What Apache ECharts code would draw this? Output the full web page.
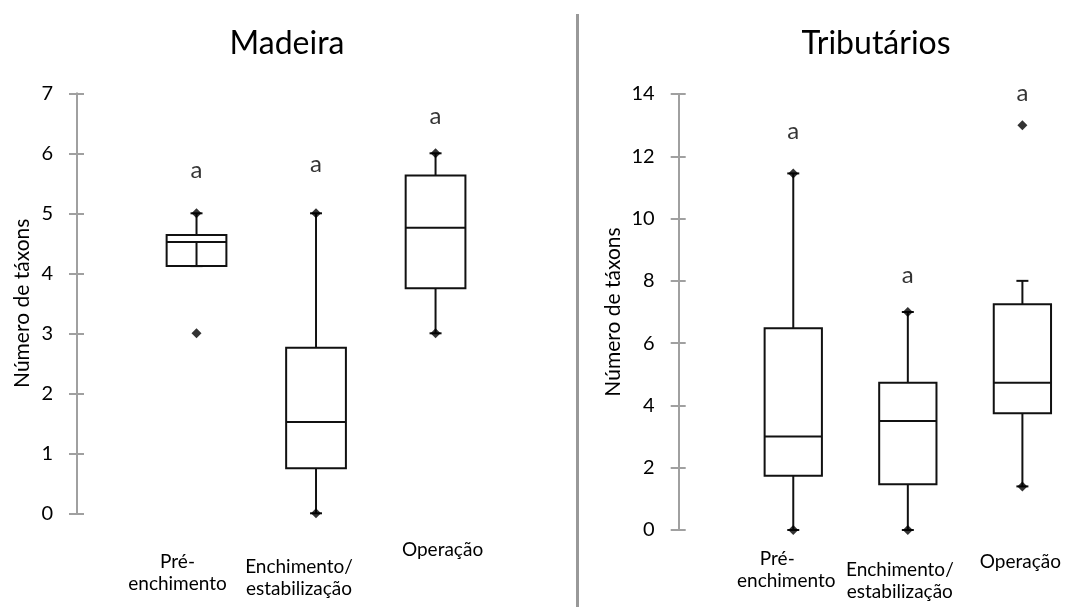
<!DOCTYPE html>
<html><head><meta charset="utf-8">
<script src="https://cdn.jsdelivr.net/npm/echarts@6/dist/echarts.min.js"></script>
<style>html,body{margin:0;padding:0;background:#fff}#c{width:1068px;height:607px}</style>
</head><body><div id="c"></div><script>
// ---------- data ----------
const categories = ['Pré-\nenchimento', 'Enchimento/\nestabilização', 'Operação'];
const panelTitles = ['Madeira', 'Tributários'];
const yAxisName = 'Número de táxons';

// Madeira
const madeiraLow    = [4.12, 0, 3];
const madeiraLowTop = [4.52, 0.75, 3.75];
const madeiraQ1     = [4.12, 0.75, 3.75];
const madeiraMedian = [4.52, 1.52, 4.76];
const madeiraQ3     = [4.64, 2.76, 5.63];
const madeiraHigh   = [5, 5, 6];
const madeiraPoints = [[1, 5], [1, 3], [2, 5], [2, 0], [3, 6], [3, 3]];
const madeiraLetters = ['a', 'a', 'a'];
const madeiraLetterY = [5.72, 5.82, 6.61];
const madeiraTicks = {min: 0, max: 7, interval: 1};

// Tributários
const tribLow    = [0, 0, 1.4];
const tribLowTop = [1.74, 1.47, 3.75];
const tribQ1     = [1.74, 1.47, 3.75];
const tribMedian = [3, 3.5, 4.73];
const tribQ3     = [6.48, 4.73, 7.25];
const tribHigh   = [11.45, 7, 8];
const tribPoints = [[1, 11.45], [1, 0], [2, 7], [2, 0], [3, 13], [3, 1.4]];
const tribLetters = ['a', 'a', 'a'];
const tribLetterY = [12.79, 8.19, 14.02];
const tribTicks = {min: 0, max: 14, interval: 2};

// ---------- build ----------
const FONT = 'Lato';
const TXT = '#000';

function boxData(low, lowTop, q1, med, q3, high) {
  return low.map((v, i) => [i + 1, v, lowTop[i], q1[i], med[i], q3[i], high[i]]);
}

function renderBox(params, api) {
  const x = api.value(0);
  const low = api.coord([x, api.value(1)]);
  const lowTop = api.coord([x, api.value(2)]);
  const q1 = api.coord([x, api.value(3)]);
  const med = api.coord([x, api.value(4)]);
  const q3 = api.coord([x, api.value(5)]);
  const high = api.coord([x, api.value(6)]);
  const w = api.size([0.5, 0])[0];
  const cap = 12;
  const cx = q1[0];
  const st = {stroke: '#111', lineWidth: 2, fill: null};
  return {
    type: 'group',
    children: [
      {type: 'line', shape: {x1: cx, y1: q3[1], x2: cx, y2: high[1]}, style: st},
      {type: 'line', shape: {x1: cx - cap / 2, y1: high[1], x2: cx + cap / 2, y2: high[1]}, style: st},
      {type: 'rect', shape: {x: cx - w / 2, y: q3[1], width: w, height: q1[1] - q3[1]}, style: {stroke: '#111', lineWidth: 2, fill: '#fff'}},
      {type: 'line', shape: {x1: cx - w / 2, y1: med[1], x2: cx + w / 2, y2: med[1]}, style: st},
      {type: 'line', shape: {x1: cx, y1: lowTop[1], x2: cx, y2: low[1]}, style: st},
      {type: 'line', shape: {x1: cx - cap / 2, y1: low[1], x2: cx + cap / 2, y2: low[1]}, style: st}
    ]
  };
}

// label layout shifts per panel: per category [dy, [dx line1, dx line2]]
const labelShift = [
  [[12, [-19, -19]], [17, [-17, -17]], [0, [7]]],
  [[0, [-16, -7]], [11, [-8, -8]], [3, [-2]]]
];

function makeXAxis(gi) {
  const rich = {};
  const strs = categories.map((c, i) => {
    const [dy, dxs] = labelShift[gi][i];
    const lines = c.split('\n');
    let s = '';
    if (dy > 0) {
      rich['s' + i] = {lineHeight: dy, fontSize: 1};
      s += '{s' + i + '| }\n';
    }
    s += lines.map((ln, j) => {
      const dx = dxs[j] || 0;
      const name = 'c' + i + '_' + j;
      rich[name] = {
        fontFamily: FONT, fontSize: 19, color: TXT, lineHeight: 22,
        padding: dx < 0 ? [0, -2 * dx, 0, 0] : [0, 0, 0, 2 * dx]
      };
      return '{' + name + '|' + ln + '}';
    }).join('\n');
    return s;
  });
  return {
    type: 'value', gridIndex: gi, min: 0, max: 3.3, interval: 1,
    axisLine: {show: false}, axisTick: {show: false}, splitLine: {show: false},
    axisLabel: {
      margin: gi === 0 ? 26 : 18,
      showMaxLabel: false,
      verticalAlign: 'top',
      formatter: v => {
        const r = Math.round(v);
        if (Math.abs(v - r) > 1e-6 || r < 1 || r > 3) return '';
        return strs[r - 1];
      },
      rich: rich
    }
  };
}

function makeYAxes(gi, ticks, nameGap, labelMargin) {
  const line = {show: true, lineStyle: {color: '#a0a0a0', width: 2}};
  return [
    {
      type: 'value', gridIndex: gi, min: ticks.min, max: ticks.max, interval: ticks.interval,
      name: yAxisName, nameLocation: 'middle', nameGap: nameGap, nameRotate: 90,
      nameTextStyle: {fontFamily: FONT, fontSize: 21, color: TXT},
      axisLine: line,
      axisTick: {show: true, inside: false, length: 8, lineStyle: {color: '#a0a0a0', width: 2}},
      axisLabel: {fontFamily: FONT, fontSize: 20, color: TXT, margin: labelMargin},
      splitLine: {show: false}
    },
    {
      type: 'value', gridIndex: gi, min: ticks.min, max: ticks.max, interval: ticks.interval,
      position: 'left',
      axisLine: {show: false},
      axisTick: {show: true, inside: true, length: 7, lineStyle: {color: '#a0a0a0', width: 2}},
      axisLabel: {show: false},
      splitLine: {show: false}
    }
  ];
}

function panelSeries(gi, bd, pts, letters, letterY) {
  return [
    {
      type: 'custom', xAxisIndex: gi, yAxisIndex: gi * 2,
      renderItem: renderBox, data: bd,
      encode: {x: 0, y: [1, 2, 3, 4, 5, 6]}, clip: false, silent: true
    },
    {
      type: 'scatter', xAxisIndex: gi, yAxisIndex: gi * 2,
      symbol: 'diamond', symbolSize: [10, 10], itemStyle: {color: '#000'},
      data: pts, clip: false, silent: true, z: 5
    },
    {
      type: 'scatter', xAxisIndex: gi, yAxisIndex: gi * 2,
      symbolSize: 0, clip: false, silent: true,
      data: letterY.map((y, i) => ({value: [i + 1, y], label: {formatter: letters[i]}})),
      label: {show: true, position: 'inside', fontFamily: FONT, fontSize: 24, color: TXT}
    }
  ];
}

const option = {
  backgroundColor: '#fff',
  animation: false,
  title: [
    {text: panelTitles[0], left: 282, top: 23, textAlign: 'center',
     textStyle: {fontFamily: FONT, fontSize: 32, fontWeight: 'normal', color: TXT}},
    {text: panelTitles[1], left: 871, top: 23, textAlign: 'center',
     textStyle: {fontFamily: FONT, fontSize: 32, fontWeight: 'normal', color: TXT}}
  ],
  grid: [
    {left: 77, top: 93.3, width: 394.4, height: 420},
    {left: 678.7, top: 94, width: 385.3, height: 436}
  ],
  xAxis: [makeXAxis(0), makeXAxis(1)],
  yAxis: [].concat(makeYAxes(0, madeiraTicks, 44, 24), makeYAxes(1, tribTicks, 55, 24)),
  graphic: [
    {type: 'rect', shape: {x: 576, y: 14, width: 3, height: 600}, style: {fill: '#999'}, silent: true}
  ],
  series: [].concat(
    panelSeries(0, boxData(madeiraLow, madeiraLowTop, madeiraQ1, madeiraMedian, madeiraQ3, madeiraHigh), madeiraPoints, madeiraLetters, madeiraLetterY),
    panelSeries(1, boxData(tribLow, tribLowTop, tribQ1, tribMedian, tribQ3, tribHigh), tribPoints, tribLetters, tribLetterY)
  )
};

const chart = echarts.init(document.getElementById('c'), null, {renderer: 'canvas'});
chart.setOption(option);
</script></body></html>
